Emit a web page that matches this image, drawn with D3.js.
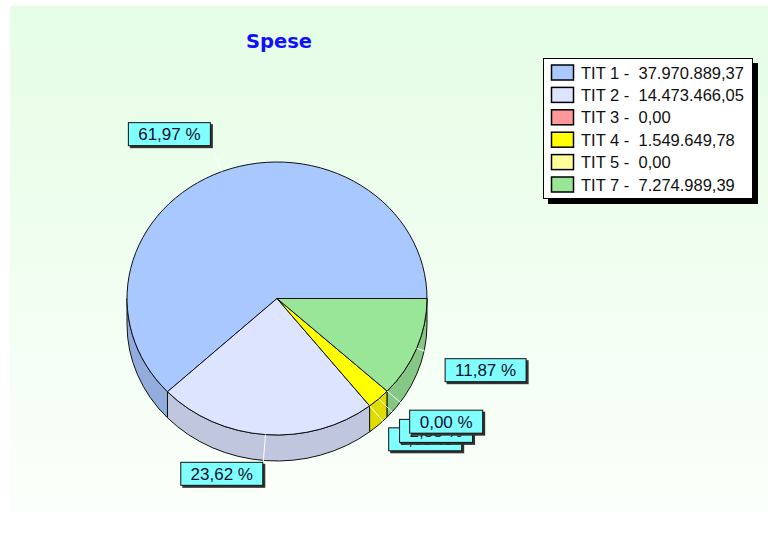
<!DOCTYPE html>
<html><head><meta charset="utf-8">
<script src="https://cdn.jsdelivr.net/npm/d3@7"></script>
<style>html,body{margin:0;padding:0;background:#fff;}svg{display:block;}</style>
</head><body>
<script>
const categories = ["TIT 1", "TIT 2", "TIT 3", "TIT 4", "TIT 5", "TIT 7"];
const values = [37970889.37, 14473466.05, 0.00, 1549649.78, 0.00, 7274989.39];
const colors = ["#a8c8ff", "#dce4ff", "#ff9999", "#ffff00", "#ffff99", "#99e699"];
const title = "Spese";

const W = 768, H = 545;
const cx = 277, cy = 298.5, rx = 150, ry = 136.5, depth = 26;
const itLocale = d3.formatLocale({decimal: ",", thousands: ".", grouping: [3], currency: ["", ""]});
const fmtVal = itLocale.format(",.2f");
const fmtPct = itLocale.format(".2f");

const svg = d3.select("body").append("svg").attr("width", W).attr("height", H);
const defs = svg.append("defs");
const grad = defs.append("linearGradient").attr("id", "bg").attr("x1", 0).attr("y1", 0).attr("x2", 0).attr("y2", 1);
grad.append("stop").attr("offset", 0).attr("stop-color", "#e5fde5");
grad.append("stop").attr("offset", 1).attr("stop-color", "#fbfffb");
svg.append("rect").attr("x", 10).attr("y", 6).attr("width", 758).attr("height", 507).attr("fill", "url(#bg)");

svg.append("text").attr("x", 279).attr("y", 48).attr("text-anchor", "middle")
  .attr("font-family", "DejaVu Sans, Verdana, sans-serif").attr("font-weight", "bold")
  .attr("font-size", 19.5).attr("fill", "#1010ff").text(title);

const data = categories.map((c, i) => ({cat: c, value: values[i], color: colors[i], idx: i}));
const total = d3.sum(values);
// d3 angles: clockwise from north; go counter-clockwise starting at east
const pie = d3.pie().value(d => d.value).sort(null).startAngle(Math.PI / 2).endAngle(Math.PI / 2 - 2 * Math.PI);
const arcs = pie(data);

const px = a => cx + rx * Math.sin(a);
const py = (a, dy = 0) => cy - ry * Math.cos(a) + dy;

const g = svg.append("g");
// side faces (front half: d3 angle in [-3PI/2, -PI/2])
const frontLo = -3 * Math.PI / 2, frontHi = -Math.PI / 2;
arcs.forEach(d => {
  const a0 = Math.min(d.startAngle, frontHi), a1 = Math.max(d.endAngle, frontLo);
  if (a0 - a1 <= 1e-6) return;
  const large = (a0 - a1) > Math.PI ? 1 : 0;
  const p = `M${px(a0)},${py(a0)} A${rx},${ry} 0 ${large} 0 ${px(a1)},${py(a1)} L${px(a1)},${py(a1, depth)} A${rx},${ry} 0 ${large} 1 ${px(a0)},${py(a0, depth)} Z`;
  g.append("path").attr("d", p).attr("fill", d3.color(d.data.color).darker(0.4)).attr("stroke", "#111").attr("stroke-width", 1);
});
// top faces
arcs.forEach(d => {
  const a0 = d.startAngle, a1 = d.endAngle;
  if (a0 - a1 <= 1e-9) return;
  const large = (a0 - a1) > Math.PI ? 1 : 0;
  const p = `M${cx},${cy} L${px(a0)},${py(a0)} A${rx},${ry} 0 ${large} 0 ${px(a1)},${py(a1)} Z`;
  g.append("path").attr("d", p).attr("fill", d.data.color).attr("stroke", "#111").attr("stroke-width", 1).attr("stroke-linejoin", "round");
});

// leaders and labels
const k = 1.2;
const lab = svg.append("g");
arcs.forEach(d => {
  const m = (d.startAngle + d.endAngle) / 2;
  lab.append("line").attr("x1", px(m)).attr("y1", py(m))
    .attr("x2", cx + k * rx * Math.sin(m)).attr("y2", cy - k * ry * Math.cos(m))
    .attr("stroke", "#fff").attr("stroke-width", 1);
});
arcs.forEach(d => {
  const m = (d.startAngle + d.endAngle) / 2;
  const ax = cx + k * rx * Math.sin(m), ay = cy - k * ry * Math.cos(m);
  const txt = fmtPct(d.value / total * 100) + " %";
  const gg = lab.append("g");
  const t = gg.append("text").attr("font-family", "Liberation Sans, Arial, sans-serif").attr("font-size", 17)
    .attr("fill", "#10102a").text(txt);
  const tw = t.node().getComputedTextLength();
  const bw = Math.round(tw + 21), bh = 24;
  const bx = Math.sin(m) >= 0 ? ax : ax - bw;
  const by = Math.cos(m) >= 0 ? ay - bh : ay;
  gg.insert("rect", "text").attr("x", bx + 2).attr("y", by + 2).attr("width", bw).attr("height", bh).attr("fill", "#333");
  gg.insert("rect", "text").attr("x", bx + 0.5).attr("y", by + 0.5).attr("width", bw - 1).attr("height", bh - 1)
    .attr("fill", "#80ffff").attr("stroke", "#111").attr("stroke-width", 1);
  t.attr("x", bx + bw / 2).attr("y", by + 18).attr("text-anchor", "middle");
});

// legend
const lx = 543, ly = 58, lw = 210, lh = 141;
const leg = svg.append("g");
leg.append("rect").attr("x", lx + 5).attr("y", ly + 5).attr("width", lw).attr("height", lh).attr("fill", "#000");
leg.append("rect").attr("x", lx + 0.5).attr("y", ly + 0.5).attr("width", lw - 1).attr("height", lh - 1).attr("fill", "#fff").attr("stroke", "#000");
data.forEach((d, i) => {
  const yc = 72.5 + i * 22.4;
  leg.append("rect").attr("x", 551.5).attr("y", yc - 7.5).attr("width", 22).attr("height", 15)
    .attr("fill", d.color).attr("stroke", "#000").attr("stroke-width", 1.5);
  leg.append("text").attr("x", 581).attr("y", yc + 6).attr("font-family", "Liberation Sans, Arial, sans-serif")
    .attr("font-size", 16.5).attr("fill", "#111").style("white-space", "pre")
    .text(`${d.cat} -  ${fmtVal(d.value)}`);
});
</script>
</body></html>
